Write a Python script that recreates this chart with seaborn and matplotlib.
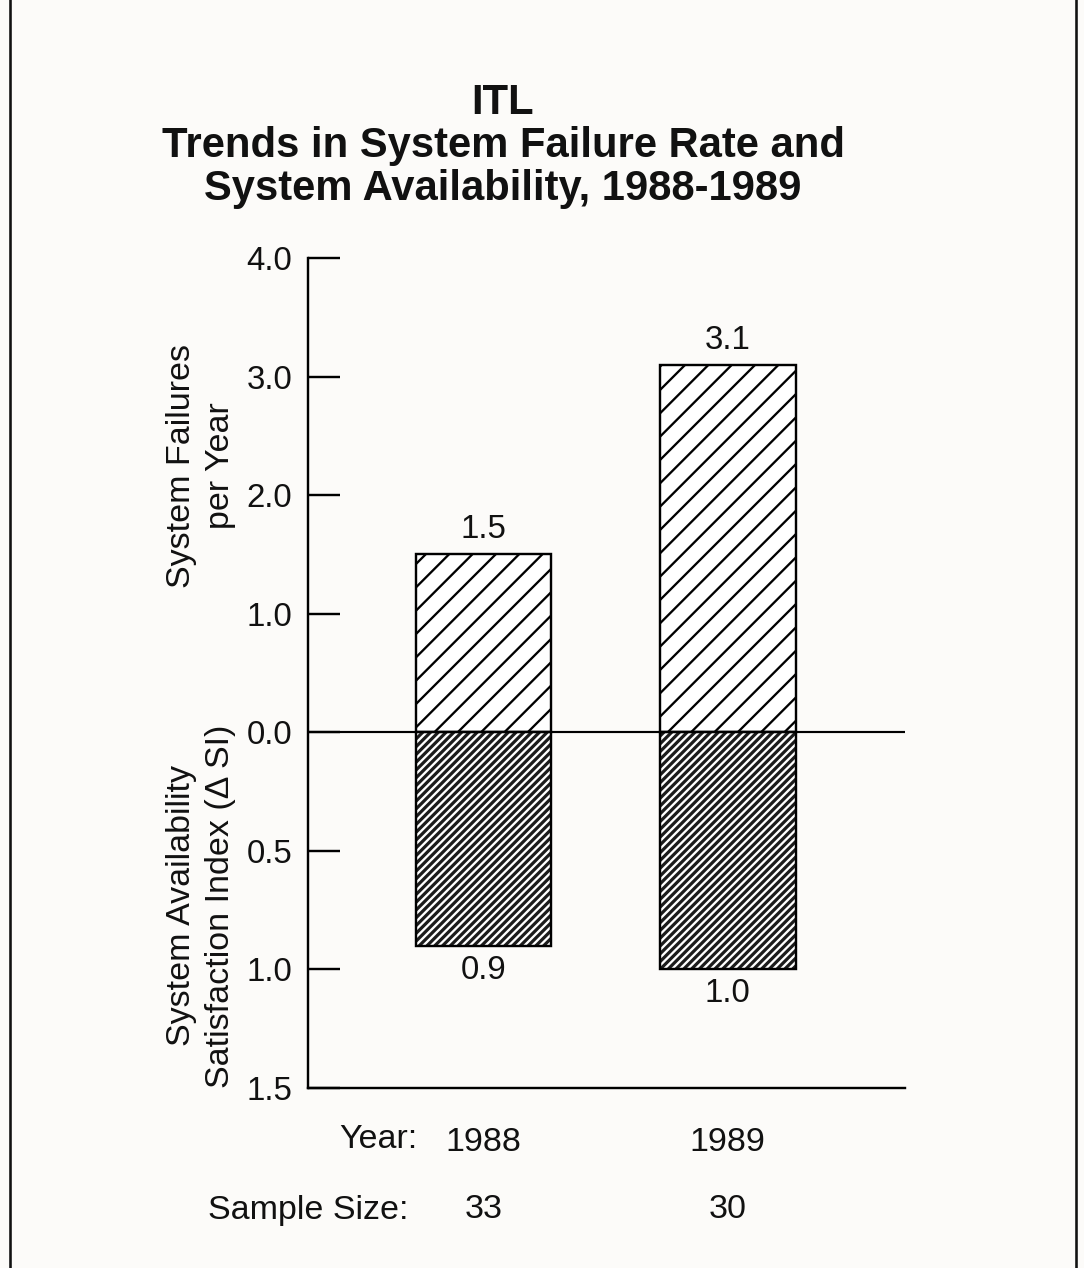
import matplotlib
matplotlib.use("Agg")
import matplotlib.pyplot as plt
import seaborn as sns
import pandas as pd
from matplotlib.patches import Rectangle
from matplotlib.transforms import blended_transform_factory

# ---- data -------------------------------------------------------------
years = ["1988", "1989"]
failures_per_year = [1.5, 3.1]          # upper panel: system failures per year
availability_si = [0.9, 1.0]            # lower panel: satisfaction index change
sample_sizes = [33, 30]
upper_ticks = [4.0, 3.0, 2.0, 1.0, 0.0]
lower_ticks = [0.5, 1.0, 1.5]

# one SI unit occupies two failure-rate units on the shared vertical axis
SI_SCALE = 2.0

# ---- figure geometry (pixels) -----------------------------------------
W, H, DPI = 1084, 1268, 140
PT = 72.0 / DPI          # points per pixel
BG = "#fcfbf9"

sns.set_theme(style="white")
plt.rcParams["font.family"] = ["Liberation Sans", "DejaVu Sans"]
plt.rcParams["hatch.linewidth"] = 2.3 * PT

fig = plt.figure(figsize=(W / DPI, H / DPI), dpi=DPI, facecolor=BG)
ax = fig.add_axes([308 / W, 1 - 1088 / H, (905 - 308) / W, (1088 - 258) / H])
ax.set_facecolor("none")

df = pd.DataFrame({
    "year": years,
    "failures": failures_per_year,
    "si_down": [-SI_SCALE * v for v in availability_si],
})

BAR_W = 0.557
EDGE = 2.4 * PT

# upper bars: light diagonal hatch on white
n0 = len(ax.patches)
sns.barplot(data=df, x="year", y="failures", ax=ax, width=BAR_W,
            color="white", errorbar=None)
for p in ax.patches[n0:]:
    p.set_facecolor("white")
    p.set_edgecolor("black")
    p.set_linewidth(EDGE)
    p.set_hatch("//")

# lower bars: dense white hatch on dark fill
n1 = len(ax.patches)
sns.barplot(data=df, x="year", y="si_down", ax=ax, width=BAR_W,
            color="#1c1c1c", errorbar=None)
for p in ax.patches[n1:]:
    p.set_facecolor("#1c1c1c")
    p.set_edgecolor("white")
    p.set_linewidth(0)
    p.set_hatch("//////")

# black outline on the lower bars
n2 = len(ax.patches)
sns.barplot(data=df, x="year", y="si_down", ax=ax, width=BAR_W,
            fill=False, color="black", errorbar=None)
for p in ax.patches[n2:]:
    p.set_facecolor("none")
    p.set_edgecolor("black")
    p.set_linewidth(EDGE)

# value labels
for i, v in enumerate(failures_per_year):
    ax.annotate(f"{v:.1f}", (i, v), xytext=(0, 9 * PT), textcoords="offset points",
                ha="center", va="bottom", fontsize=17, color="#111111")
for i, v in enumerate(availability_si):
    ax.annotate(f"{v:.1f}", (i, -SI_SCALE * v), xytext=(0, -9 * PT),
                textcoords="offset points", ha="center", va="top",
                fontsize=17, color="#111111")

# axes
ax.set_xlim(-0.719, 1.727)
ax.set_ylim(-SI_SCALE * 1.5, 4.0)
tick_pos = upper_ticks + [-SI_SCALE * t for t in lower_ticks]
tick_lab = [f"{t:.1f}" for t in upper_ticks] + [f"{t:.1f}" for t in lower_ticks]
ax.set_yticks(tick_pos)
ax.set_yticklabels(tick_lab)
ax.axhline(0, color="black", lw=EDGE * 0.9, zorder=5)

for side in ("top", "right"):
    ax.spines[side].set_visible(False)
for side in ("left", "bottom"):
    ax.spines[side].set_color("black")
    ax.spines[side].set_linewidth(EDGE)

ax.tick_params(axis="y", direction="in", length=32 * PT, width=EDGE,
               color="black", pad=16 * PT, labelsize=17, labelcolor="#111111",
               left=True)
ax.tick_params(axis="x", length=0, pad=39 * PT, labelsize=17.5,
               labelcolor="#111111")
ax.set_xlabel("")
ax.set_ylabel("")

# axis labels for the two halves
fig.text(201 / W, 1 - 466 / H, "System Failures\nper Year", rotation=90,
         ha="center", va="center", fontsize=17.5, linespacing=1.35,
         color="#111111")
fig.text(201 / W, 1 - 906 / H, "System Availability\nSatisfaction Index (\u0394 SI)",
         rotation=90, ha="center", va="center", fontsize=17.5, linespacing=1.35,
         color="#111111")

# row labels beneath the bars
fig.text(417 / W, 1 - 1140 / H, "Year:", ha="right", va="center",
         fontsize=17.5, color="#111111")
fig.text(408 / W, 1 - 1210 / H, "Sample Size:", ha="right", va="center",
         fontsize=17.5, color="#111111")
trans = blended_transform_factory(ax.transData, fig.transFigure)
for i, n in enumerate(sample_sizes):
    ax.text(i, 1 - 1210 / H, str(n), transform=trans, ha="center", va="center",
            fontsize=17.5, color="#111111", clip_on=False)

# title
fig.text(503 / W, 1 - 146 / H,
         "ITL\nTrends in System Failure Rate and\nSystem Availability, 1988-1989",
         ha="center", va="center", fontsize=21.5, fontweight="bold",
         linespacing=1.1, multialignment="center", color="#111111")

# frame around the page
fig.patches.append(Rectangle((10 / W, -0.02), (1076 - 10) / W, 1.02 + (1 - 5 / H),
                             transform=fig.transFigure, fill=False,
                             edgecolor="#111111", lw=2.6 * PT, clip_on=False))

fig.savefig("out.png", dpi=DPI, facecolor=BG)
